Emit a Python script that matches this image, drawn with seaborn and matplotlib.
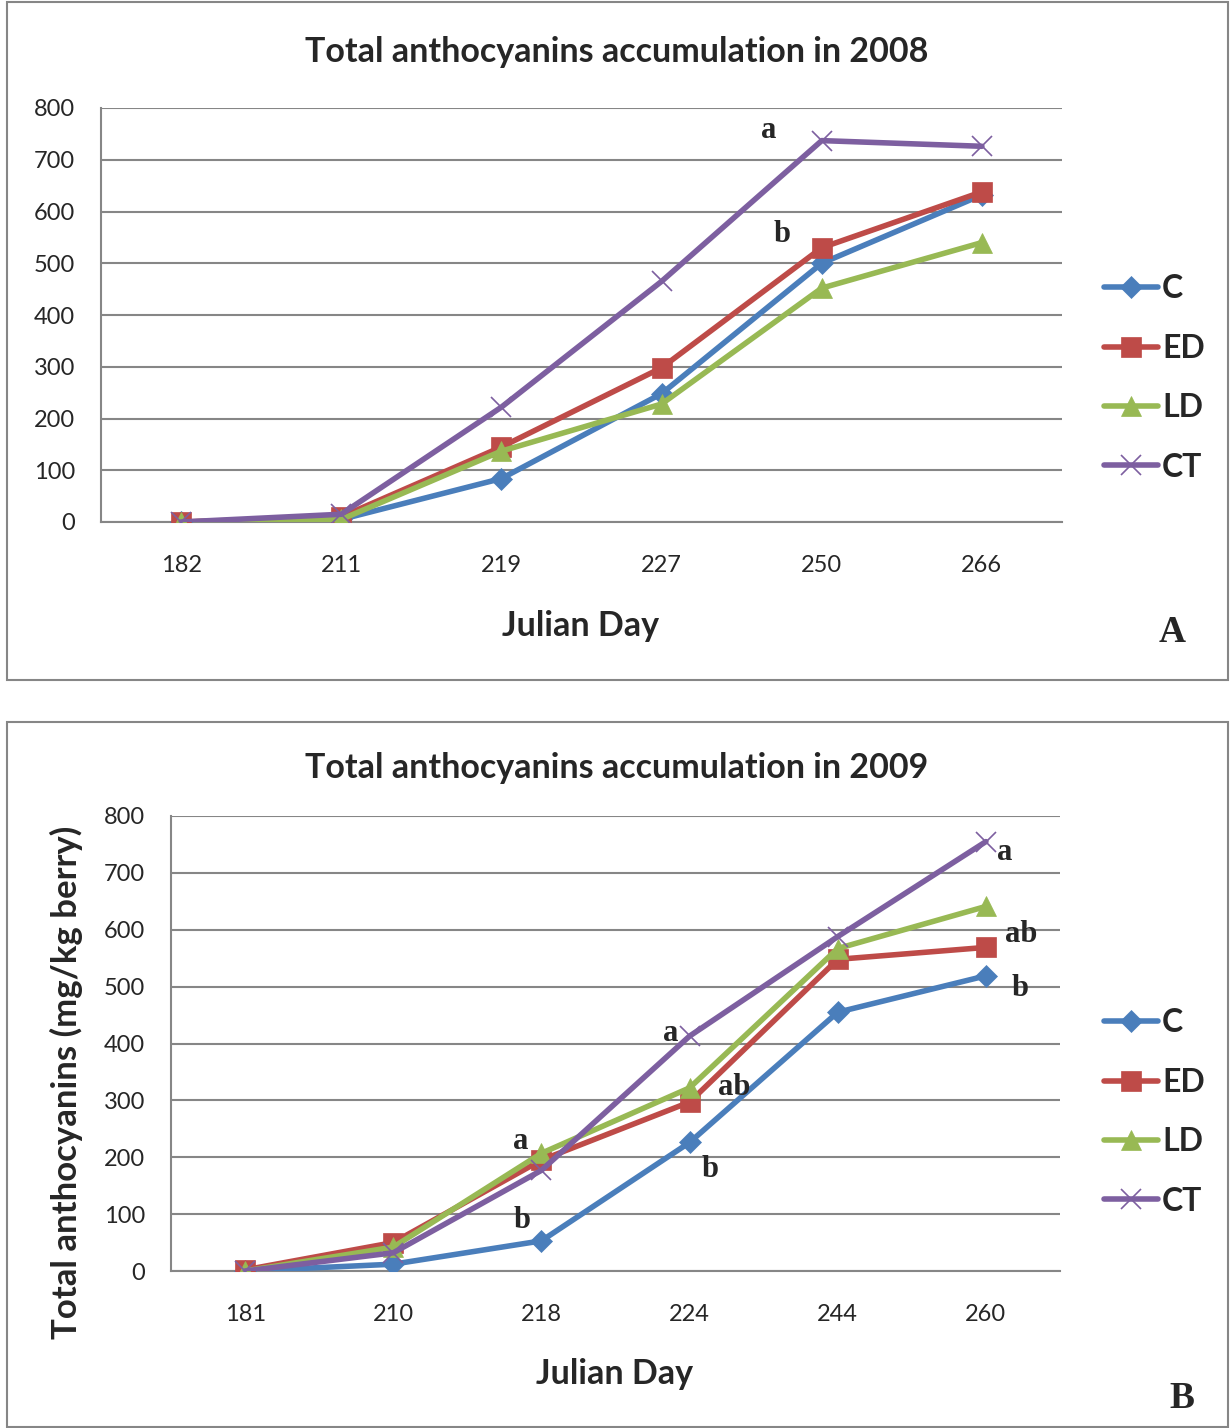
import numpy as np
import pandas as pd
import matplotlib
matplotlib.use("Agg")
import matplotlib.pyplot as plt
import seaborn as sns
from matplotlib.patches import Rectangle

# Data
treatments = ["C", "ED", "LD", "CT"]

days_2008 = ["182", "211", "219", "227", "250", "266"]
c_2008 = [0, 5, 84, 248, 500, 632]
ed_2008 = [0, 10, 145, 298, 530, 638]
ld_2008 = [0, 5, 137, 228, 452, 540]
ct_2008 = [0, 15, 222, 465, 737, 726]

days_2009 = ["181", "210", "218", "224", "244", "260"]
c_2009 = [0, 12, 53, 226, 455, 519]
ed_2009 = [2, 50, 195, 297, 548, 569]
ld_2009 = [0, 42, 207, 322, 567, 641]
ct_2009 = [0, 32, 177, 413, 588, 755]

# significance letters: (text, x position in category units, y value)
letters_2008 = [("a", 3.67, 757), ("b", 3.75, 556)]
letters_2009 = [("a", 5.13, 736), ("ab", 5.24, 592), ("b", 5.23, 497),
                ("a", 2.87, 418), ("ab", 3.30, 322), ("b", 3.14, 178),
                ("a", 1.86, 227), ("b", 1.87, 88)]

colors = {"C": "#4A7EBB", "ED": "#BE4B48", "LD": "#98B954", "CT": "#7D5FA0"}
markers = {"C": "D", "ED": "s", "LD": "^", "CT": "x"}
msizes = {"C": 11, "ED": 14.5, "LD": 14.5, "CT": 15}

GRAY = "#868686"
SERIF = ["Liberation Serif", "DejaVu Serif"]

sns.set_style("white")
plt.rcParams["font.family"] = ["Lato", "DejaVu Sans"]


def long_frame(days, series):
    rows = []
    for name, vals in zip(treatments, series):
        for i, v in enumerate(vals):
            rows.append({"pos": i, "day": days[i], "treatment": name, "value": v})
    return pd.DataFrame(rows)


def draw_panel(fig, rect, days, series, letters, legend_anchor):
    ax = fig.add_axes(rect)
    df = long_frame(days, series)
    for name in treatments:
        sub = df[df.treatment == name]
        c = colors[name]
        sns.lineplot(data=sub, x="pos", y="value", ax=ax, color=c, lw=4,
                     marker=markers[name], markersize=msizes[name],
                     markeredgecolor=c,
                     markeredgewidth=1.2 if name == "CT" else 0.5,
                     label=name, zorder=3)
    ax.set_xlim(-0.5, len(days) - 0.5)
    ax.set_ylim(0, 800)
    ax.set_yticks(np.arange(0, 801, 100))
    ax.set_xticks(range(len(days)))
    ax.set_xticklabels(days)
    ax.set_xticks(np.arange(-0.5, len(days), 1), minor=True)
    ax.tick_params(axis="x", which="major", length=0, pad=24, labelsize=17)
    ax.tick_params(axis="x", which="minor", length=5.5, width=1.5, color=GRAY,
                   direction="out")
    ax.tick_params(axis="y", length=6.5, width=1.5, color=GRAY, direction="out",
                   labelsize=17, pad=12)
    ax.grid(axis="y", color=GRAY, lw=1.5)
    ax.grid(axis="x", visible=False)
    for s in ["top", "right"]:
        ax.spines[s].set_visible(False)
    for s in ["left", "bottom"]:
        ax.spines[s].set_color(GRAY)
        ax.spines[s].set_linewidth(1.5)
    ax.set_xlabel("")
    ax.set_ylabel("")
    for txt, x, y in letters:
        ax.text(x, y, txt, ha="center", va="center", fontsize=22,
                fontweight="bold", family=SERIF)
    handles, labels = ax.get_legend_handles_labels()
    ax.legend(handles, labels, loc="center left", bbox_to_anchor=legend_anchor,
              bbox_transform=fig.transFigure, frameon=False, borderpad=0,
              handlelength=1.7, handletextpad=0.12, labelspacing=0.95,
              prop={"size": 23, "weight": "bold"})
    return ax


W, H = 1230, 1428
fig = plt.figure(figsize=(W / 100, H / 100), dpi=100)


def fx(px):
    return px / W


def fy(py):
    return 1 - py / H


# panel frames
for top, bottom in [(2, 680), (722, 1427)]:
    fig.patches.append(Rectangle((fx(7), fy(bottom)), fx(1228) - fx(7),
                                 fy(top) - fy(bottom), transform=fig.transFigure,
                                 fill=False, edgecolor=GRAY, lw=1.5))

draw_panel(fig, [fx(101), fy(522), fx(1062) - fx(101), fy(108) - fy(522)],
           days_2008, [c_2008, ed_2008, ld_2008, ct_2008], letters_2008,
           (fx(1088), fy(378)))
draw_panel(fig, [fx(171), fy(1271), fx(1060) - fx(171), fy(816) - fy(1271)],
           days_2009, [c_2009, ed_2009, ld_2009, ct_2009], letters_2009,
           (fx(1088), fy(1112)))

fig.text(fx(617), fy(52), "Total anthocyanins accumulation in 2008",
         ha="center", va="center", fontsize=24.5, fontweight="bold")
fig.text(fx(581), fy(626), "Julian Day", ha="center", va="center",
         fontsize=24.5, fontweight="bold")
fig.text(fx(1172), fy(633), "A", ha="center", va="center", fontsize=27,
         fontweight="bold", family=SERIF)

fig.text(fx(617), fy(768), "Total anthocyanins accumulation in 2009",
         ha="center", va="center", fontsize=24.5, fontweight="bold")
fig.text(fx(615), fy(1374), "Julian Day", ha="center", va="center",
         fontsize=24.5, fontweight="bold")
fig.text(fx(66), fy(1082), "Total anthocyanins (mg/kg berry)", ha="center",
         va="center", rotation=90, fontsize=25, fontweight="bold")
fig.text(fx(1182), fy(1398), "B", ha="center", va="center", fontsize=27,
         fontweight="bold", family=SERIF)

fig.savefig("out.png", dpi=100)
